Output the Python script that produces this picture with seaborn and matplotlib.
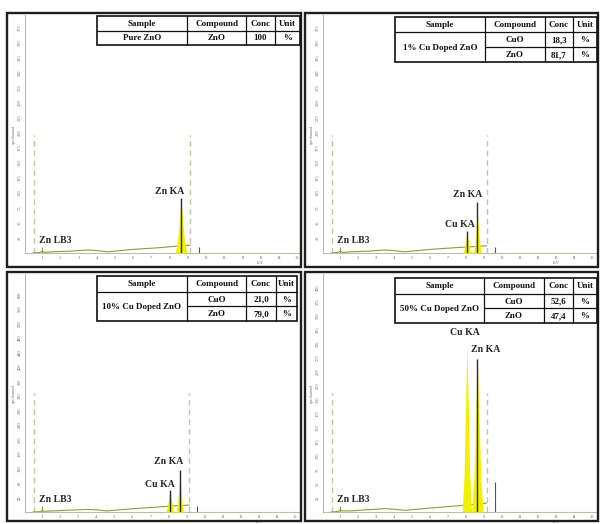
import matplotlib
matplotlib.use("Agg")
import matplotlib.pyplot as plt
from matplotlib.patches import Rectangle
import pandas as pd
import seaborn as sns

sns.set_theme(style="white")
plt.rcParams["font.family"] = ["Liberation Serif", "DejaVu Serif"]

# ---------------- composition tables ----------------
table_header = ["Sample", "Compound", "Conc", "Unit"]
samples = ["Pure ZnO", "1% Cu Doped ZnO", "10% Cu Doped ZnO", "50% Cu Doped ZnO"]
compounds = [["ZnO"], ["CuO", "ZnO"], ["CuO", "ZnO"], ["CuO", "ZnO"]]
conc = [["100"], ["18,3", "81,7"], ["21,0", "79,0"], ["52,6", "47,4"]]
units = [["%"], ["%", "%"], ["%", "%"], ["%", "%"]]

# ---------------- EDX spectra (energy keV, counts) ----------------
bg_kev = [0.5, 0.9, 1.0, 1.15, 1.6, 2.5, 3.5, 4.0, 4.6, 6.0, 7.5, 8.6, 9.15]
bg_counts = [
    [0, 1, 3, 1, 2, 3, 5, 4, 2, 6, 9, 12, 13],
    [0, 1, 3, 1, 2, 3, 5, 4, 2, 6, 9, 11, 12],
    [0, 1, 4, 2, 3, 5, 7, 6, 3, 9, 14, 18, 19],
    [0, 1, 3, 2, 2, 4, 6, 5, 3, 7, 11, 14, 16],
]

# lines: name, energy, peak height, half width, marker top (0 = no marker)
peak_names = [["Zn KA"], ["Cu KA", "Zn KA"], ["Cu KA", "Zn KA"], ["Cu KA", "Zn KA"]]
peak_kev = [[8.63], [8.05, 8.63], [8.08, 8.63], [8.05, 8.63]]
peak_height = [[88], [35, 67], [58, 94], [300, 270]]
peak_halfwidth = [[0.32], [0.24, 0.22], [0.25, 0.22], [0.26, 0.32]]
marker_top = [[92], [37, 85], [60, 116], [0, 273]]
label_kev = [[8.03], [7.67, 8.11], [7.53, 8.03], [7.92, 9.09]]
label_counts = [[95], [40, 90], [63, 127], [312, 282]]

# shared line profile (offset in half widths, fraction of height)
profile_dx = [-1.0, -0.6, -0.3, 0.0, 0.3, 0.6, 1.0]
profile_rel = [0.0, 0.22, 0.62, 1.0, 0.62, 0.22, 0.0]

znl_kev = 1.01
znl_marker = [10, 10, 17, 11]
znl_label = [13, 13, 22, 14]
roi_kev = [0.55, 9.15]
roi_top = [197, 197, 328, 212]
sum_kev = 9.6
sum_top = [10, 10, 17, 54]

ytick_step = [25, 25, 40, 25]
ytick_count = [15, 15, 15, 16]
ytick_px = [15.0, 15.0, 14.5, 14.0]
xticks = list(range(1, 16))

# ---------------- layout (pixels) ----------------
W, H = 600, 524
borders = [(7, 13, 301, 267), (305, 13, 598, 267), (7, 272, 301, 521), (305, 272, 598, 521)]
axes_box = [(25, 15, 299, 253), (323, 15, 597, 253), (25, 274, 299, 512), (323, 274, 597, 512)]
tick1_px = [(42, 297), (340, 592), (42, 295), (340, 592)]
tables = [
    ([97, 187, 246, 275, 300], [16, 31, 45]),
    ([395, 485, 545, 573, 597], [17, 32, 47, 62]),
    ([97, 187, 246, 276, 297], [276, 292, 306, 321]),
    ([395, 484, 544, 573, 597], [278, 294, 308, 323]),
]

YELLOW = "#f1f100"
OLIVE = "#8f9c3e"
ROI = "#c3c6a4"
AXC = "#b3c2aa"

fig = plt.figure(figsize=(W / 100, H / 100), dpi=100)
fig.patch.set_facecolor("white")


def fbox(x0, y0, x1, y1):
    return [x0 / W, 1 - y1 / H, (x1 - x0) / W, (y1 - y0) / H]


for i in range(4):
    x0, y0, x1, y1 = axes_box[i]
    ax = fig.add_axes(fbox(x0, y0, x1, y1))
    t1, t15 = tick1_px[i]
    kev_px = (t15 - t1) / 14.0
    ax.set_xlim(1 - (t1 - x0) / kev_px, 15 + (x1 - t15) / kev_px)
    cpp = ytick_step[i] / ytick_px[i]
    ax.set_ylim(0, (y1 - y0) * cpp)

    # background continuum
    df = pd.DataFrame({"keV": bg_kev, "counts": bg_counts[i]})
    sns.lineplot(data=df, x="keV", y="counts", ax=ax, color=OLIVE, lw=0.8, zorder=3)

    # region-of-interest limits and sum line
    for rk in roi_kev:
        ax.vlines(rk, 0, roi_top[i], colors=ROI, lw=1.0, linestyles=(0, (4, 3)), zorder=2)
    ax.vlines(sum_kev, 0, sum_top[i], colors="#555555", lw=0.8, zorder=2)

    # Zn L line
    ax.vlines(znl_kev, 0, znl_marker[i], colors=OLIVE, lw=0.8, zorder=3)
    ax.text(znl_kev - 0.2, znl_label[i], "Zn LB3", fontsize=7, fontweight="bold",
            ha="left", va="bottom", zorder=5)

    # K-alpha lines
    for name, e, h, hw, mt, lx, ly in zip(peak_names[i], peak_kev[i], peak_height[i],
                                           peak_halfwidth[i], marker_top[i],
                                           label_kev[i], label_counts[i]):
        px = [e + d * hw for d in profile_dx]
        py = [h * r for r in profile_rel]
        ax.fill_between(px, 0, py, color=YELLOW, lw=0, zorder=4)
        if mt > 0:
            ax.vlines(e, 0, mt, colors="#2a2a2a", lw=1.0, zorder=4)
        ax.text(lx, ly, name, fontsize=7, fontweight="bold", ha="center", va="bottom", zorder=5)

    # axes styling
    sns.despine(ax=ax)
    for s in ("left", "bottom"):
        ax.spines[s].set_color(AXC)
        ax.spines[s].set_linewidth(0.8)
    ax.set_xticks(xticks)
    ax.set_xticklabels([str(v) for v in xticks])
    yt = [ytick_step[i] * (k + 1) for k in range(ytick_count[i])]
    ax.set_yticks(yt)
    ax.set_yticklabels([str(v) for v in yt])
    ax.tick_params(axis="both", labelsize=3.2, colors="#666666", length=1.5, width=0.5, pad=1)
    ax.tick_params(axis="y", labelrotation=90)
    for lab in ax.get_yticklabels():
        lab.set_va("center")
    ax.set_xlabel("")
    ax.set_ylabel("cps/channel", fontsize=3, color="#666666", labelpad=1)
    ax.annotate("keV", xy=(13, 0), xycoords=("data", "axes fraction"),
                xytext=(0, -5.5), textcoords="offset points",
                fontsize=3, color="#666666", ha="center", va="top")
    ax.grid(False)

# overlay for panel frames and composition tables (pixel coordinates)
ov = fig.add_axes([0, 0, 1, 1], zorder=10)
ov.set_xlim(0, W)
ov.set_ylim(H, 0)
ov.axis("off")
ov.patch.set_alpha(0)

for (bx0, by0, bx1, by1) in borders:
    ov.add_patch(Rectangle((bx0, by0), bx1 - bx0, by1 - by0, fill=False,
                           ec="#1e1e1e", lw=1.7))

for i in range(4):
    cols, rows = tables[i]
    tx0, tx1 = cols[0], cols[-1]
    ty0, ty1 = rows[0], rows[-1]
    ov.add_patch(Rectangle((tx0, ty0), tx1 - tx0, ty1 - ty0, fc="white",
                           ec="#111111", lw=1.2))
    for c in cols[1:-1]:
        ov.plot([c, c], [ty0, ty1], color="#111111", lw=0.9)
    ov.plot([tx0, tx1], [rows[1], rows[1]], color="#111111", lw=0.9)
    for r in rows[2:-1]:
        ov.plot([cols[1], tx1], [r, r], color="#111111", lw=0.9)
    tkw = dict(fontsize=6.5, fontweight="bold", ha="center", va="center", color="#111111")
    for k, head in enumerate(table_header):
        ov.text((cols[k] + cols[k + 1]) / 2, (rows[0] + rows[1]) / 2 + 0.5, head, **tkw)
    ov.text((cols[0] + cols[1]) / 2, (rows[1] + rows[-1]) / 2 + 0.5, samples[i], **tkw)
    for r, (cp, cv, un) in enumerate(zip(compounds[i], conc[i], units[i])):
        yc = (rows[1 + r] + rows[2 + r]) / 2 + 0.5
        ov.text((cols[1] + cols[2]) / 2, yc, cp, **tkw)
        ov.text((cols[2] + cols[3]) / 2, yc, cv, **tkw)
        ov.text((cols[3] + cols[4]) / 2, yc, un, **tkw)

fig.savefig("out.png", dpi=100, facecolor="white")
